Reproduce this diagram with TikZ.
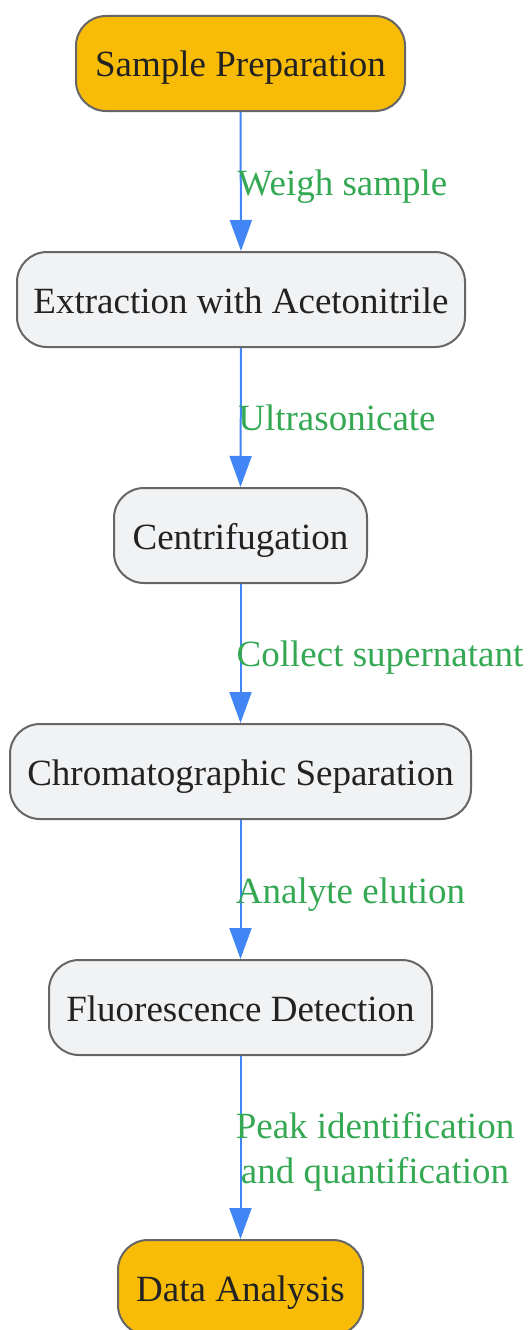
\documentclass[tikz,border=0pt]{standalone}
\usepackage{fontspec}
\setmainfont{Liberation Serif}
\usetikzlibrary{arrows.meta}
\definecolor{txt}{HTML}{222222}
\definecolor{bord}{HTML}{666666}
\definecolor{yel}{HTML}{F9BC06}
\definecolor{gry}{HTML}{F1F2F4}
\definecolor{edge}{HTML}{4285F4}
\definecolor{lab}{HTML}{34A853}
\begin{document}
\begin{tikzpicture}[x=1pt,y=-1pt,
  box/.style={draw=bord,line width=2pt,rounded corners=30pt,fill=gry,text=txt,
    font=\fontsize{37}{44}\selectfont,minimum height=95pt,inner sep=0pt,
    text height=28pt,text depth=1pt},
  term/.style={box,fill=yel},
  conn/.style={draw=edge,line width=2pt,-{Triangle[width=22pt,length=31pt]}},
  elab/.style={text=lab,font=\fontsize{37}{45}\selectfont,inner sep=0pt,anchor=base}]
\useasboundingbox (0,0) rectangle (530,1330);
\node[term,minimum width=329pt] (a) at (240.5,63.5) {Sample Preparation};
\node[box,minimum width=448pt] (b) at (241,299.5) {Extraction with Acetonitrile};
\node[box,minimum width=253pt] (c) at (240.5,535.5) {Centrifugation};
\node[box,minimum width=461pt] (d) at (240.5,771.5) {Chromatographic Separation};
\node[box,minimum width=383pt] (e) at (240.5,1007.5) {Fluorescence Detection};
\node[term,minimum width=245pt] (f) at (240.5,1287.5) {Data Analysis};
\draw[conn] (a.south) -- (b.north);
\draw[conn] (b.south) -- (c.north);
\draw[conn] (c.south) -- (d.north);
\draw[conn] (d.south) -- (e.north);
\draw[conn] (e.south) -- (f.north);
\node[elab] (l1) at (342.5,195) {Weigh sample};
\node[elab] (l2) at (337,430.5) {Ultrasonicate};
\node[elab] (l3) at (380,666.5) {Collect supernatant};
\node[elab] (l4) at (350.5,903) {Analyte elution};
\node[elab] (l5a) at (375,1138) {Peak identification};
\node[elab] (l5b) at (375,1183) {and quantification};
\end{tikzpicture}
\end{document}
